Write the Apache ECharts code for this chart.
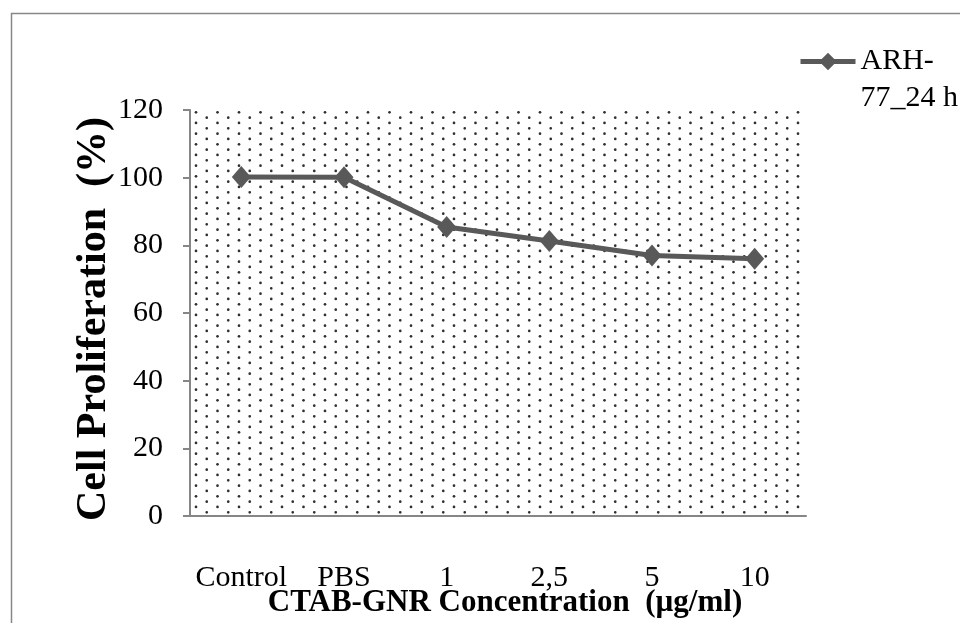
<!DOCTYPE html>
<html>
<head>
<meta charset="utf-8">
<script src="https://cdn.jsdelivr.net/npm/echarts@6/dist/echarts.min.js"></script>
<style>
  html, body { margin: 0; padding: 0; background: #ffffff; }
  #chart { width: 960px; height: 623px; }
</style>
</head>
<body>
<div id="chart"></div>
<script>
// Data
const categories = ['Control', 'PBS', '1', '2,5', '5', '10'];
const proliferation = [100.2, 100.1, 85.4, 81.3, 77.0, 76.0];
const seriesName = 'ARH-77_24 h';
const yMin = 0;
const yMax = 120;
const yStep = 20;
const xTitle = 'CTAB-GNR Concentration  (µg/ml)';
const yTitle = 'Cell Proliferation  (%)';

// Staggered dot tile used as the plot-area fill
function makeDotTile() {
  const w = 43, h = 32;
  const c = document.createElement('canvas');
  c.width = w; c.height = h;
  const ctx = c.getContext('2d');
  ctx.fillStyle = '#2f2f2f';
  const colStep = w / 4, rowStep = h / 3;
  for (let i = 0; i < 4; i++) {
    const x = (24 + i * colStep) % w;
    for (let k = 0; k < 3; k++) {
      const y = (16.3 + (i % 2) * rowStep / 2 + k * rowStep) % h;
      for (const dx of [-w, 0, w]) {
        for (const dy of [-h, 0, h]) {
          ctx.beginPath();
          ctx.arc(x + dx, y + dy, 1.35, 0, Math.PI * 2);
          ctx.fill();
        }
      }
    }
  }
  return c;
}

const serif = '"Liberation Serif", "Times New Roman", serif';
const chart = echarts.init(document.getElementById('chart'), null, { renderer: 'canvas' });

chart.setOption({
  animation: false,
  backgroundColor: '#ffffff',
  graphic: [{
    type: 'rect',
    left: 9, top: 11,
    shape: { width: 1000, height: 700 },
    style: { fill: 'none', stroke: '#878787', lineWidth: 1.5 },
    silent: true
  }],
  grid: {
    left: 190, right: 154, top: 110, bottom: 107,
    outerBoundsMode: 'none',
    containLabel: false,
    show: true,
    borderWidth: 0,
    backgroundColor: { image: makeDotTile(), repeat: 'repeat' }
  },
  legend: {
    left: 798, top: 6, padding: 0,
    itemWidth: 55, itemHeight: 22, itemGap: 5,
    selectedMode: false,
    lineStyle: { width: 5 },
    // leading blank line keeps the first text line level with the icon
    formatter: name => '\n' + name.replace('-', '-\n'),
    textStyle: {
      fontFamily: serif, fontSize: 30, color: '#000000',
      lineHeight: 37
    }
  },
  xAxis: {
    type: 'category',
    data: categories,
    boundaryGap: true,
    name: xTitle,
    nameLocation: 'middle',
    nameGap: 71,
    nameMoveOverlap: false,
    nameTextStyle: {
      fontFamily: serif, fontSize: 31, fontWeight: 'bold', color: '#000000',
      padding: [0, 0, 0, 14]
    },
    axisLine: { lineStyle: { color: '#868686', width: 2 } },
    axisTick: { show: false },
    axisLabel: { interval: 0, fontFamily: serif, fontSize: 30, color: '#000000', margin: 47 },
    splitLine: { show: false }
  },
  yAxis: {
    type: 'value',
    min: yMin, max: yMax, interval: yStep,
    name: yTitle,
    nameLocation: 'middle',
    nameGap: 75,
    nameMoveOverlap: false,
    nameTextStyle: {
      fontFamily: serif, fontSize: 42, fontWeight: 'bold', color: '#000000',
      padding: [0, 12, 0, 0]
    },
    axisLine: { show: true, lineStyle: { color: '#868686', width: 2 } },
    axisTick: { show: true, length: 7, lineStyle: { color: '#868686', width: 2 } },
    axisLabel: { fontFamily: serif, fontSize: 30, color: '#000000', margin: 27 },
    splitLine: { show: false }
  },
  series: [{
    type: 'line',
    name: seriesName,
    data: proliferation,
    symbol: 'diamond',
    symbolSize: [19, 22],
    lineStyle: { color: '#595959', width: 5 },
    itemStyle: { color: '#595959' },
    emphasis: { disabled: true }
  }]
});
</script>
</body>
</html>
